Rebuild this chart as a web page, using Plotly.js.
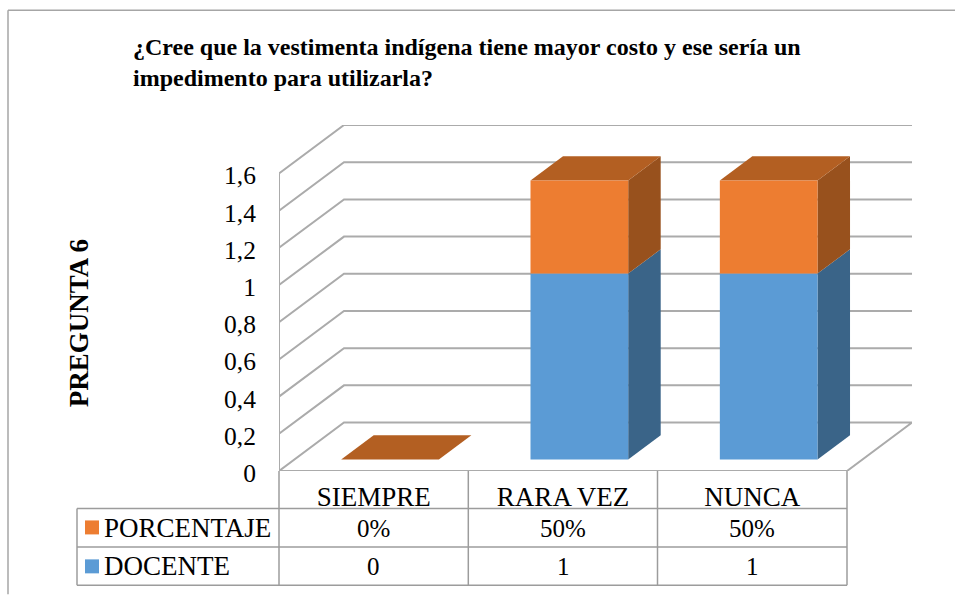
<!DOCTYPE html>
<html>
<head>
<meta charset="utf-8">
<script src="https://cdn.plot.ly/plotly-3.0.1.min.js"></script>
<style>html,body{margin:0;padding:0;background:#fff}#c{width:955px;height:595px}</style>
</head>
<body>
<div id="c"></div>
<script>
const categories = ["SIEMPRE", "RARA VEZ", "NUNCA"];
const docente = [0, 1, 1];
const porcentaje = [0, 0.5, 0.5];
const yTicks = [0, 0.2, 0.4, 0.6, 0.8, 1, 1.2, 1.4, 1.6];
const yTickText = ["0", "0,2", "0,4", "0,6", "0,8", "1", "1,2", "1,4", "1,6"];
const titleText = "¿Cree que la vestimenta indígena tiene mayor costo y ese sería un<br>impedimento para utilizarla?";
const axisTitle = "PREGUNTA 6";
const seriesNames = ["PORCENTAJE", "DOCENTE"];

// page geometry of the plot box
const W = 955, H = 595, L = 279, R = 912, T = 125, B = 471.5;
const depthX = 0.3433, depthY = 0.2604;   // oblique depth of the walls, in axis units
const xMax = 3 + depthX, yMax = 1.6 + depthY;
const px = v => (v - L) / (R - L);         // page px -> paper
const py = v => (B - v) / (B - T);

const GRID = "#ababab", TABLE = "#9c9c9c", SERIF = "Liberation Serif, Times New Roman, serif";
const barW = 0.516, barStart = 0.247, near = 0.237, far = 0.737;  // bar placement within a slot

const traces = [];
function line(xs, ys, width, color) {
  traces.push({type: "scatter", mode: "lines", x: xs, y: ys, hoverinfo: "skip", showlegend: false,
    line: {color: color || GRID, width: width || 2}, cliponaxis: false, zorder: 0});
}
function face(xs, ys, color, z) {
  traces.push({type: "scatter", mode: "lines", x: xs.concat(xs[0]), y: ys.concat(ys[0]), fill: "toself",
    fillcolor: color, line: {width: 0, color: color}, hoverinfo: "skip", showlegend: false, zorder: z, cliponaxis: false});
}

// walls and floor
yTicks.slice(1).forEach(v => line([0, depthX, 3 + depthX], [v, v + depthY, v + depthY]));
line([0, 0], [0, 1.6]);
line([0, depthX, 3 + depthX, 3, 0], [0, depthY, depthY, 0, 0]);

const slots = categories.map((c, i) => i);

function stackFaces(lo, hi, cTop, cSide, withTop, z) {
  slots.forEach(i => {
    const a = near * depthY, b = far * depthY, ax = near * depthX, bx = far * depthX;
    const xl = i + barStart, xr = xl + barW;
    if (hi[i] > lo[i]) face([xr + ax, xr + bx, xr + bx, xr + ax], [lo[i] + a, lo[i] + b, hi[i] + b, hi[i] + a], cSide, z);
    if (withTop) face([xl + ax, xl + bx, xr + bx, xr + ax], [hi[i] + a, hi[i] + b, hi[i] + b, hi[i] + a], cTop, z);
  });
}
const stackTop = docente.map((d, i) => d + porcentaje[i]);
stackFaces(docente.map(() => 0), docente, "#3A6488", "#3A6488", false, 1);
stackFaces(docente, stackTop, "#B35F22", "#98511D", true, 1);

// front faces: real bars
const barX = slots.map(i => i + barStart + near * depthX + barW / 2);
traces.push({type: "bar", name: seriesNames[1], x: barX, y: docente, base: docente.map(() => near * depthY),
  width: barW, marker: {color: "#5B9BD5", line: {width: 0}}, showlegend: false, zorder: 2});
traces.push({type: "bar", name: seriesNames[0], x: barX, y: porcentaje, base: docente.map(d => d + near * depthY),
  width: barW, marker: {color: "#ED7D31", line: {width: 0}}, showlegend: false, zorder: 2});

// data table and frame
const shapes = [];
function seg(x0, y0, x1, y1, color, w) {
  shapes.push({type: "line", xref: "paper", yref: "paper", x0: px(x0), y0: py(y0), x1: px(x1), y1: py(y1),
    line: {color: color || TABLE, width: w || 1.5}, layer: "below"});
}
seg(8, 10, 955, 10, "#a6a6a6", 1.5);
seg(8, 10, 8, 595, "#a6a6a6", 1.5);
[509, 547.7, 586].forEach(y => seg(77, y, 847, y));
seg(77, 509, 77, 586);
[279, 468.3, 657.5, 847].forEach(x => seg(x, 471.5, x, 586));
function swatch(y, color) {
  shapes.push({type: "rect", xref: "paper", yref: "paper", x0: px(85), x1: px(99), y0: py(y), y1: py(y + 14),
    fillcolor: color, line: {width: 0}});
}
swatch(521, "#ED7D31");
swatch(560, "#5B9BD5");

const annotations = [];
function note(text, xref, x, yPage, anchor, size, extra) {
  annotations.push(Object.assign({text: text, xref: xref, x: x, yref: "paper", y: py(yPage), xanchor: anchor, yanchor: "middle",
    showarrow: false, font: {family: SERIF, size: size, color: "#000"}}, extra || {}));
}
const TS = 27;
note(seriesNames[0], "paper", px(102), 529, "left", TS);
note(seriesNames[1], "paper", px(102), 567, "left", TS);
slots.forEach(i => {
  note(Math.round(porcentaje[i] * 100) + "%", "x", i + 0.5, 529, "center", 25);
  note(String(docente[i]), "x", i + 0.5, 567.5, "center", 25);
});
note("<b>" + axisTitle + "</b>", "paper", px(78.5), 324, "center", 27, {textangle: -90});

const layout = {
  width: W, height: H,
  margin: {l: L, r: W - R, t: T, b: H - B, pad: 0},
  paper_bgcolor: "#fff", plot_bgcolor: "rgba(0,0,0,0)",
  showlegend: false, barmode: "overlay", hovermode: false,
  title: {text: titleText, xref: "container", yref: "container", x: 133 / W, xanchor: "left", y: 1 - 54.5 / H, yanchor: "middle",
    font: {family: SERIF, size: 24, color: "#000", weight: "bold"}},
  xaxis: {range: [0, xMax], tickmode: "array", tickvals: slots.map(i => i + 0.5), ticktext: categories,
    ticks: "outside", ticklen: 2, tickcolor: "rgba(0,0,0,0)", showgrid: false, zeroline: false, showline: false,
    tickfont: {family: SERIF, size: TS, color: "#000"}, fixedrange: true},
  yaxis: {range: [0, yMax], tickmode: "array", tickvals: yTicks, ticktext: yTickText,
    ticks: "outside", ticklen: 17, tickcolor: "rgba(0,0,0,0)", showgrid: false, zeroline: false, showline: false,
    ticklabelshift: 2,
    tickfont: {family: SERIF, size: 25.5, color: "#000"}, fixedrange: true},
  shapes: shapes, annotations: annotations
};
Plotly.newPlot("c", traces, layout, {displayModeBar: false, staticPlot: true});
</script>
</body>
</html>
